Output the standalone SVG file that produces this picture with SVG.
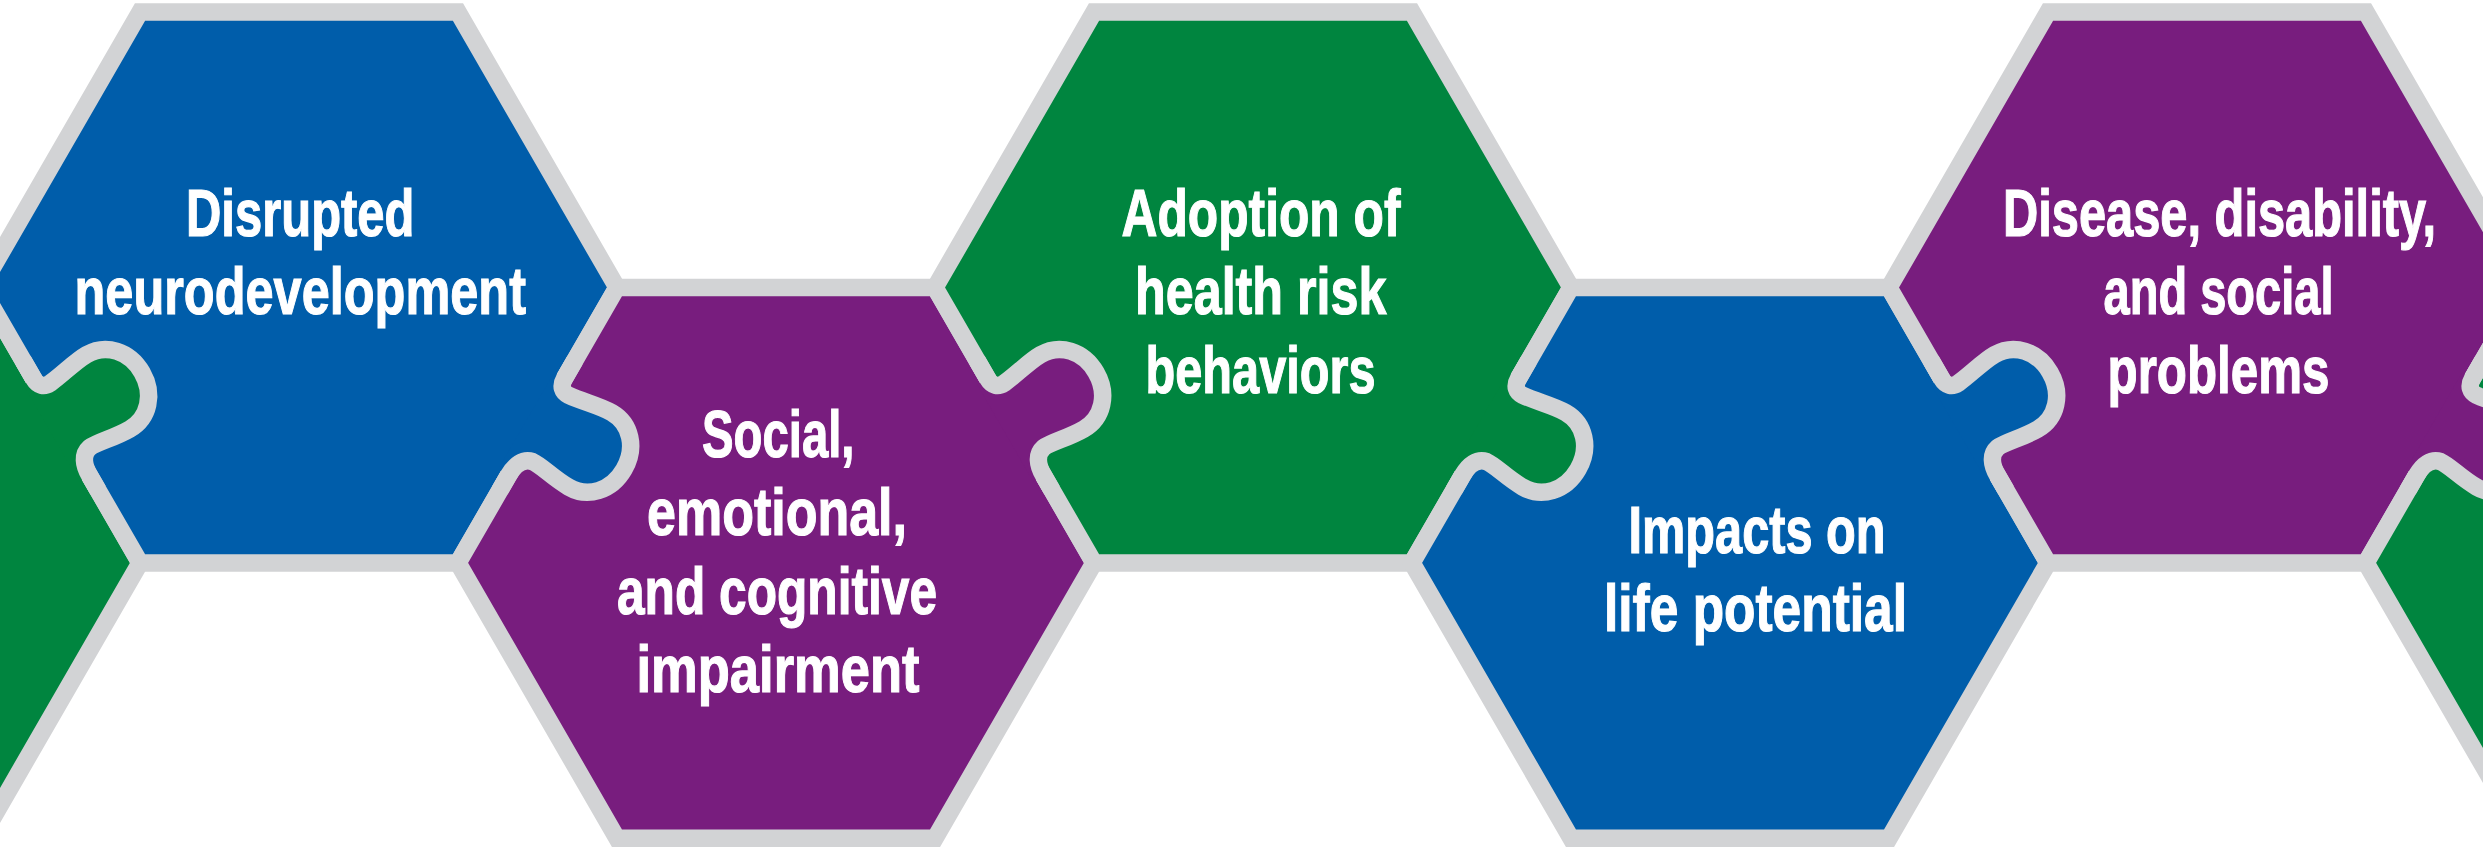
<svg xmlns="http://www.w3.org/2000/svg" xmlns:xlink="http://www.w3.org/1999/xlink" width="2483" height="852" viewBox="0 0 2483 852">
  <style>
    .hex { stroke: #D2D3D5; stroke-width: 17.5; stroke-linejoin: miter; }
    .tab-line { fill: none; stroke: #D2D3D5; stroke-width: 17.5; stroke-linejoin: round; stroke-linecap: butt; }
    .blue { fill: #005DAA; }
    .green { fill: #00853F; }
    .purple { fill: #781D7E; }
    .label { font-family: "Liberation Sans", Arial, sans-serif; font-weight: bold; font-size: 67px; fill: #FFFFFF; stroke: #FFFFFF; stroke-width: 1.2; }
  </style>
  <defs>
    <!-- flat-topped hexagon cell, centred on the origin -->
    <path id="hex" d="M-318 0 L-159 -275.4 L159 -275.4 L318 0 L159 275.4 L-159 275.4 Z"/>
    <!-- jigsaw knob: x runs along the shared edge, y points into the neighbouring piece -->
    <path id="tab-fill" d="M-58 -12 L-58 0 C-46 0 -36 4 -34 14 C-33 24 -38 40 -38 58 C-38 80 -20 97 5 97 C30 97 48 80 48 58 C48 44 43 28 41.5 12 C41 5 45 0 54 0 L54 -12 Z"/>
    <path id="tab-line" d="M-75 0 L-58 0 C-46 0 -36 4 -34 14 C-33 24 -38 40 -38 58 C-38 80 -20 97 5 97 C30 97 48 80 48 58 C48 44 43 28 41.5 12 C41 5 45 0 54 0 L75 0"/>
  </defs>

  <rect x="0" y="0" width="2483" height="852" fill="#FFFFFF"/>

  <g id="piece-green-left">
    <use xlink:href="#hex" href="#hex" class="hex green" transform="translate(-178 562.9)"/>
  </g>

  <g id="piece-disrupted-neurodevelopment">
    <use xlink:href="#hex" href="#hex" class="hex blue" transform="translate(299 287.5)"/>
    <text class="label" x="186" y="235.5" textLength="228.5" lengthAdjust="spacingAndGlyphs">Disrupted</text>
    <text class="label" x="74.5" y="314" textLength="451.5" lengthAdjust="spacingAndGlyphs">neurodevelopment</text>
  </g>

  <g id="piece-social-emotional-cognitive">
    <use xlink:href="#hex" href="#hex" class="hex purple" transform="translate(776 562.9)"/>
    <text class="label" x="702" y="456.5" textLength="152.5" lengthAdjust="spacingAndGlyphs">Social,</text>
    <text class="label" x="647" y="535" textLength="260" lengthAdjust="spacingAndGlyphs">emotional,</text>
    <text class="label" x="617" y="613.5" textLength="320" lengthAdjust="spacingAndGlyphs">and cognitive</text>
    <text class="label" x="636.5" y="692" textLength="283" lengthAdjust="spacingAndGlyphs">impairment</text>
  </g>

  <g id="piece-health-risk-behaviors">
    <use xlink:href="#hex" href="#hex" class="hex green" transform="translate(1253 287.5)"/>
    <text class="label" x="1121.5" y="235.5" textLength="279" lengthAdjust="spacingAndGlyphs">Adoption of</text>
    <text class="label" x="1135" y="314" textLength="251.5" lengthAdjust="spacingAndGlyphs">health risk</text>
    <text class="label" x="1145.5" y="392.5" textLength="230" lengthAdjust="spacingAndGlyphs">behaviors</text>
  </g>

  <g id="piece-life-potential">
    <use xlink:href="#hex" href="#hex" class="hex blue" transform="translate(1730 562.9)"/>
    <text class="label" x="1628.5" y="552.5" textLength="257" lengthAdjust="spacingAndGlyphs">Impacts on</text>
    <text class="label" x="1604" y="631" textLength="303" lengthAdjust="spacingAndGlyphs">life potential</text>
  </g>

  <g id="piece-disease-disability">
    <use xlink:href="#hex" href="#hex" class="hex purple" transform="translate(2207 287.5)"/>
    <text class="label" x="2003" y="235.5" textLength="433" lengthAdjust="spacingAndGlyphs">Disease, disability,</text>
    <text class="label" x="2103.5" y="314" textLength="230" lengthAdjust="spacingAndGlyphs">and social</text>
    <text class="label" x="2107.5" y="393" textLength="222" lengthAdjust="spacingAndGlyphs">problems</text>
  </g>

  <g id="piece-green-right">
    <use xlink:href="#hex" href="#hex" class="hex green" transform="translate(2684 562.9)"/>
  </g>

  <!-- interlocking knobs joining each piece to the next -->
  <g id="connectors">
    <use xlink:href="#tab-fill" href="#tab-fill" class="green" transform="translate(60.5 425.2) rotate(-120)"/>
    <use xlink:href="#tab-line" href="#tab-line" class="tab-line" transform="translate(60.5 425.2) rotate(-120)"/>

    <use xlink:href="#tab-fill" href="#tab-fill" class="blue" transform="translate(537.5 425.2) rotate(-60)"/>
    <use xlink:href="#tab-line" href="#tab-line" class="tab-line" transform="translate(537.5 425.2) rotate(-60)"/>

    <use xlink:href="#tab-fill" href="#tab-fill" class="purple" transform="translate(1014.5 425.2) rotate(-120)"/>
    <use xlink:href="#tab-line" href="#tab-line" class="tab-line" transform="translate(1014.5 425.2) rotate(-120)"/>

    <use xlink:href="#tab-fill" href="#tab-fill" class="green" transform="translate(1491.5 425.2) rotate(-60)"/>
    <use xlink:href="#tab-line" href="#tab-line" class="tab-line" transform="translate(1491.5 425.2) rotate(-60)"/>

    <use xlink:href="#tab-fill" href="#tab-fill" class="blue" transform="translate(1968.5 425.2) rotate(-120)"/>
    <use xlink:href="#tab-line" href="#tab-line" class="tab-line" transform="translate(1968.5 425.2) rotate(-120)"/>

    <use xlink:href="#tab-fill" href="#tab-fill" class="purple" transform="translate(2445.5 425.2) rotate(-60)"/>
    <use xlink:href="#tab-line" href="#tab-line" class="tab-line" transform="translate(2445.5 425.2) rotate(-60)"/>
  </g>
</svg>
